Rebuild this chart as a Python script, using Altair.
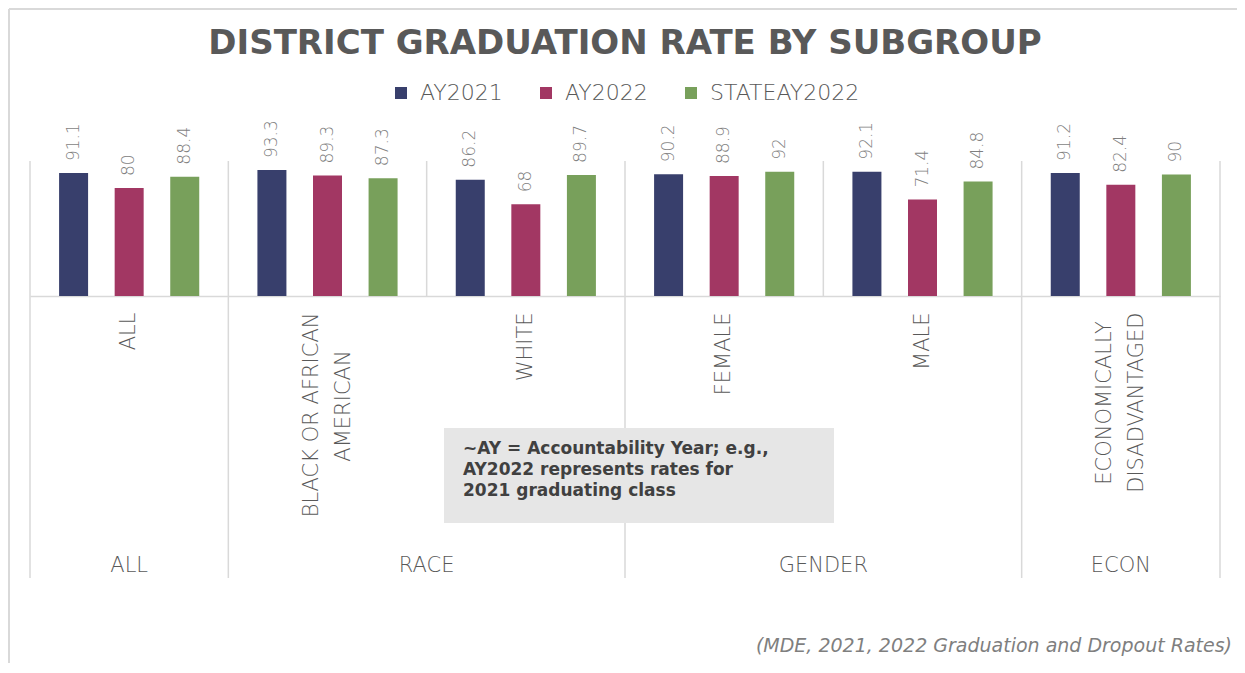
import altair as alt
import pandas as pd

# ---- data ----
subgroups = ["ALL", "BLACK OR AFRICAN\nAMERICAN", "WHITE", "FEMALE", "MALE", "ECONOMICALLY\nDISADVANTAGED"]
groups = ["ALL", "RACE", "GENDER", "ECON"]
series = ["AY2021", "AY2022", "STATEAY2022"]
ay2021 = [91.1, 93.3, 86.2, 90.2, 92.1, 91.2]
ay2022 = [80, 89.3, 68, 88.9, 71.4, 82.4]
state_ay2022 = [88.4, 87.3, 89.7, 92, 84.8, 90]
colors = ["#383f6c", "#a23763", "#78a05b"]

# group layout: first subgroup of each group, group of one or two subgroups
group_first = ["ALL", "BLACK OR AFRICAN\nAMERICAN", "FEMALE", "ECONOMICALLY\nDISADVANTAGED"]
group_single = ["ALL", "ECON"]
group_single_sub = ["ALL", "ECONOMICALLY\nDISADVANTAGED"]
group_double = ["RACE", "GENDER"]
group_double_sub = ["BLACK OR AFRICAN\nAMERICAN", "FEMALE"]
inner_bounds = ["WHITE", "MALE"]

note_text = "~AY = Accountability Year; e.g.,\nAY2022 represents rates for\n2021 graduating class"
source_text = "(MDE,  2021, 2022 Graduation and Dropout Rates)"
title_text = "DISTRICT GRADUATION RATE BY SUBGROUP"

rows = []
for s, vals in zip(series, [ay2021, ay2022, state_ay2022]):
    for sub, v in zip(subgroups, vals):
        rows.append({"sub": sub, "series": s, "value": v})
df = pd.DataFrame(rows)

FONT = "DejaVu Sans"
GRAY = "#595959"
LINE = "#d9d9d9"
LABEL_SIZE = 21

# Axis shows the longer line of each two-line label (top aligned);
# the shorter line is drawn as a centred text mark beside it.
S = "split(datum.label, '\\n')"
label_expr = (
    f"length({S}) > 1 ? (length({S}[0]) >= length({S}[1]) ? [{S}[0], ''] : ['', {S}[1]]) : datum.label"
)

xscale = alt.Scale(domain=subgroups, paddingInner=0, paddingOuter=0)
xaxis = alt.Axis(
    title=None, labelAngle=-90, labelFontSize=LABEL_SIZE, labelColor=GRAY, labelFont=FONT,
    labelFontWeight=300, ticks=False, domainColor=LINE, domainWidth=1.5,
    labelPadding=16, labelLimit=400, labelOverlap=False, grid=False,
    labelExpr=label_expr, labelLineHeight=32,
    labelOffset={"condition": {"test": "indexof(datum.value, '\\n') >= 0", "value": -16}, "value": 0},
)


def xenc(bp=0.5):
    return alt.X("sub:N", sort=subgroups, scale=xscale, axis=xaxis, bandPosition=bp)


ydom = alt.Scale(domain=[0, 100])
offscale = alt.Scale(domain=series, paddingInner=0.4775, paddingOuter=0.523)

bars = alt.Chart(df).mark_bar(size=29).encode(
    x=xenc(),
    xOffset=alt.XOffset("series:N", sort=series, scale=offscale),
    y=alt.Y("value:Q", scale=ydom, axis=None),
    color=alt.Color("series:N", sort=series,
                    scale=alt.Scale(domain=series, range=colors),
                    legend=alt.Legend(title=None, orient="none", legendX=360, legendY=-79,
                                      direction="horizontal", symbolType="square",
                                      symbolSize=144, symbolStrokeWidth=0,
                                      labelFontSize=22, labelColor=GRAY, labelFont=FONT,
                                      labelFontWeight=300, columnPadding=32, labelOffset=8,
                                      padding=0)),
)

values = alt.Chart(df).mark_text(angle=270, align="left", baseline="middle", dx=12,
                                 fontSize=17, font=FONT, fontWeight=300, color="#7f7f7f").encode(
    x=xenc(),
    xOffset=alt.XOffset("series:N", sort=series, scale=offscale),
    y=alt.Y("value:Q", scale=ydom, axis=None),
    text=alt.Text("value:Q", format=".1~f"),
)

# shorter lines of the two-line category labels
short_style = dict(angle=270, align="center", baseline="middle", fontSize=LABEL_SIZE,
                   font=FONT, fontWeight=300, color=GRAY)
black_line2 = alt.Chart(pd.DataFrame({"sub": [subgroups[1]], "t": [subgroups[1].split("\n")[1]]})).mark_text(
    dy=16, **short_style).encode(x=xenc(), y=alt.value(245), text="t:N")
econ_line1 = alt.Chart(pd.DataFrame({"sub": [subgroups[5]], "t": [subgroups[5].split("\n")[0]]})).mark_text(
    dy=-16, **short_style).encode(x=xenc(), y=alt.value(242), text="t:N")

# separators between groups (full height) and between subgroups (plot area only)
outer_df = pd.DataFrame({"sub": group_first})
outer_lines = alt.Chart(outer_df).mark_rule(color=LINE, strokeWidth=1.5).encode(
    x=xenc(0), y=alt.value(0), y2=alt.value(417))
last_line = alt.Chart(pd.DataFrame({"sub": [subgroups[-1]]})).mark_rule(color=LINE, strokeWidth=1.5).encode(
    x=xenc(1), y=alt.value(0), y2=alt.value(417))
inner_lines = alt.Chart(pd.DataFrame({"sub": inner_bounds})).mark_rule(color=LINE, strokeWidth=1.5).encode(
    x=xenc(0), y=alt.value(0), y2=alt.value(135))

glabel_style = dict(fontSize=21, font=FONT, fontWeight=300, color=GRAY, baseline="middle", align="center")
g1 = alt.Chart(pd.DataFrame({"sub": group_single_sub, "group": group_single})).mark_text(**glabel_style).encode(
    x=xenc(0.5), y=alt.value(405), text="group:N")
g2 = alt.Chart(pd.DataFrame({"sub": group_double_sub, "group": group_double})).mark_text(**glabel_style).encode(
    x=xenc(1), y=alt.value(405), text="group:N")

note_box = alt.Chart(pd.DataFrame({"t": [note_text]})).mark_rect(color="#e6e6e6").encode(
    x=alt.value(414), x2=alt.value(804), y=alt.value(267), y2=alt.value(362))
note = alt.Chart(pd.DataFrame({"t": [note_text]})).mark_text(
    align="left", baseline="top", fontSize=17, font=FONT, fontWeight="bold", color="#404040",
    lineBreak="\n", lineHeight=21).encode(
    x=alt.value(433), y=alt.value(280), text="t:N")

source = alt.Chart(pd.DataFrame({"t": [source_text]})).mark_text(
    align="right", baseline="middle", fontSize=19, font=FONT, fontStyle="italic",
    fontWeight=300, color="#7f7f7f").encode(
    x=alt.value(1202), y=alt.value(485), text="t:N")

frame_top = alt.Chart(pd.DataFrame({"t": [0]})).mark_rule(color=LINE, strokeWidth=2).encode(
    x=alt.value(-21), x2=alt.value(1207), y=alt.value(-152))
frame_left = alt.Chart(pd.DataFrame({"t": [0]})).mark_rule(color=LINE, strokeWidth=2).encode(
    x=alt.value(-21), y=alt.value(-152), y2=alt.value(502))

chart = alt.layer(
    frame_top, frame_left, outer_lines, last_line, inner_lines, note_box, bars, values,
    black_line2, econ_line1, g1, g2, note, source,
).properties(
    width=1190, height=135,
    autosize=alt.AutoSizeParams(type="none"),
    padding={"left": 22, "top": 153, "right": 17, "bottom": 367},
    title=alt.Title(title_text, fontSize=34, font=FONT, fontWeight="bold", color=GRAY,
                    anchor="middle", offset=-53),
    background="white",
).configure_view(stroke=None)

chart.save("out.html", embed_options={"renderer": "svg", "actions": False})
